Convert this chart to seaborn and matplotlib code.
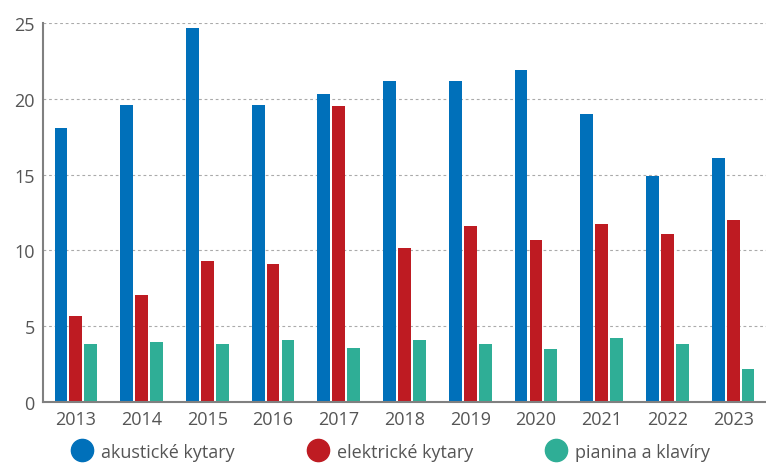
import seaborn as sns
from matplotlib import pyplot as plt
from matplotlib.lines import Line2D
import pandas as pd

years = ['2013', '2014', '2015', '2016', '2017', '2018', '2019', '2020', '2021', '2022', '2023']
akusticke = [18.1, 19.6, 24.7, 19.6, 20.3, 21.2, 21.2, 21.9, 19.0, 14.9, 16.1]
elektricke = [5.7, 7.05, 9.3, 9.1, 19.5, 10.15, 11.6, 10.7, 11.75, 11.1, 12.0]
pianina = [3.85, 3.95, 3.8, 4.1, 3.55, 4.1, 3.8, 3.5, 4.2, 3.8, 2.2]
series = ['akustické kytary', 'elektrické kytary', 'pianina a klavíry']
colors = ['#0070BA', '#BE1B22', '#2FAE96']

df = pd.DataFrame({'rok': years * 3,
                   'hodnota': akusticke + elektricke + pianina,
                   'serie': [s for s in series for _ in years]})

sns.set_style('white')
plt.rcParams['font.family'] = ['Open Sans', 'DejaVu Sans']

fig = plt.figure(figsize=(7.66, 4.64), dpi=100)
ax = fig.add_axes([43 / 766, 1 - 403 / 464, 1 - 43 / 766, (403 - 24) / 464])
sns.barplot(data=df, x='rok', y='hodnota', hue='serie', palette=colors,
            width=0.68, gap=0.14, ax=ax, legend=False, saturation=1, linewidth=0)

ax.set_ylim(0, 25)
ax.set_xlim(-0.5, len(years) - 0.5)
ax.set_yticks([0, 5, 10, 15, 20, 25])
ax.set_xlabel('')
ax.set_ylabel('')
ax.yaxis.grid(True, color='#aaaaaa', linestyle=(0, (2.5, 2.5)), linewidth=0.8)
ax.set_axisbelow(True)
for s in ['top', 'right']:
    ax.spines[s].set_visible(False)
for s in ['left', 'bottom']:
    ax.spines[s].set_color('#808080')
    ax.spines[s].set_linewidth(1.5)
ax.tick_params(axis='both', length=0, labelsize=13, labelcolor='#555555', pad=6)

handles = [Line2D([], [], marker='o', linestyle='', markersize=16,
                  markerfacecolor=c, markeredgecolor=c) for c in colors]
fig.legend(handles, series, loc='lower center', bbox_to_anchor=(0.51, -0.03), ncol=3,
           frameon=False, fontsize=13, labelcolor='#555555', handletextpad=0.45,
           columnspacing=4.0, handlelength=1.2)

plt.savefig('out.png', dpi=100)
